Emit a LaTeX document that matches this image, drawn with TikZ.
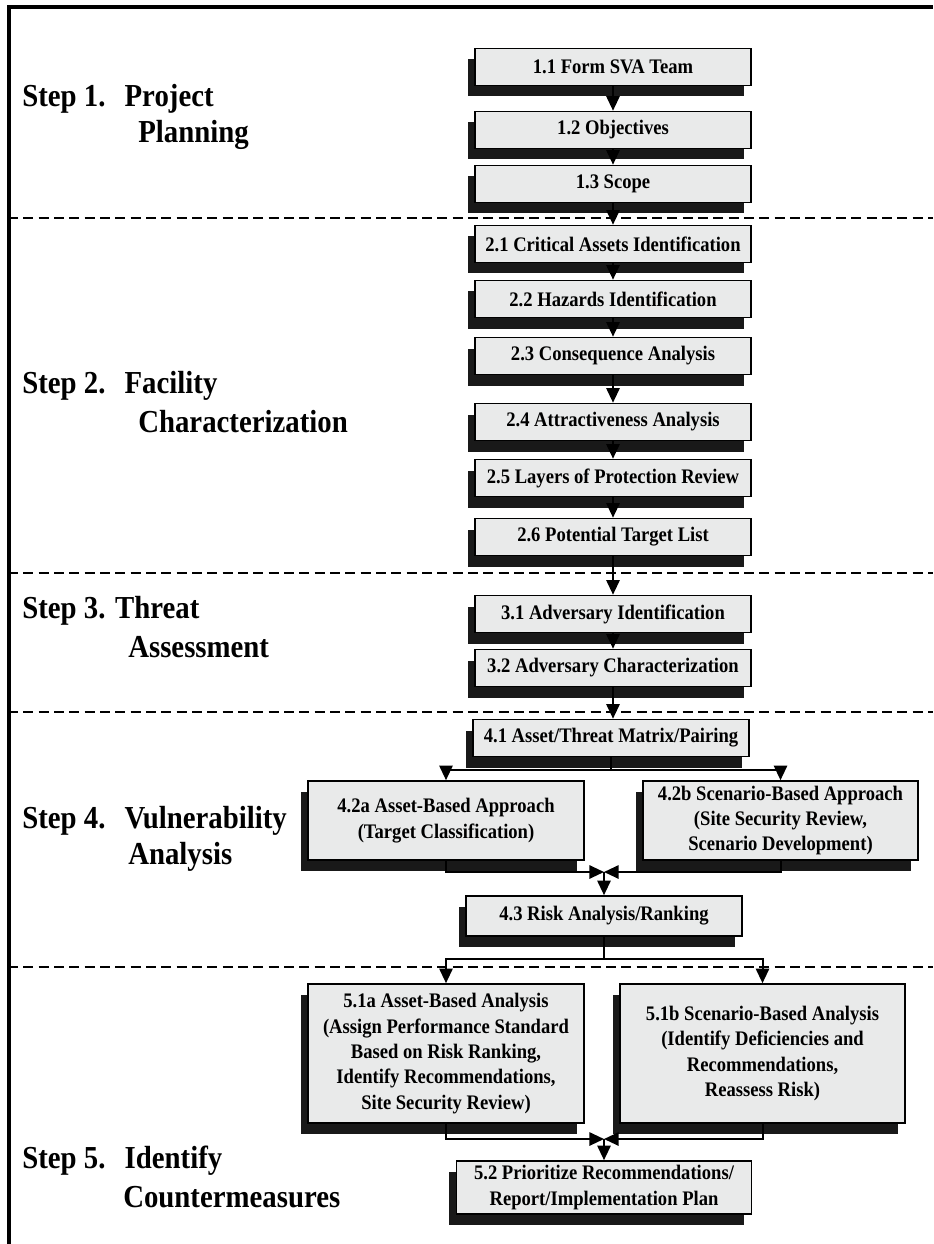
\documentclass[tikz,border=0pt]{standalone}
\usepackage{fontspec}
\setmainfont{Liberation Serif}[FakeStretch=0.9]
\usetikzlibrary{arrows.meta,shadows}

\definecolor{boxgray}{HTML}{E9EAEA}
\tikzset{
  stepbox/.style={draw=black, line width=1.2pt, fill=boxgray, align=center,
    inner sep=1pt, font=\bfseries\fontsize{15.5}{19}\selectfont,
    drop shadow={shadow xshift=-5.5pt, shadow yshift=-8.25pt, fill=black!90, opacity=1}},
  single/.style={stepbox, minimum width=207pt, minimum height=27.75pt},
  steplabel/.style={anchor=west, inner sep=0pt, font=\bfseries\fontsize{24}{27}\selectfont},
  arr/.style={line width=1.5pt, -{Triangle[length=11pt,width=10pt]}},
  sep/.style={dash pattern=on 7.5pt off 4pt, line width=1.2pt},
}

\begin{document}
\begin{tikzpicture}[x=0.75pt, y=-0.75pt]
    \useasboundingbox (0,0) rectangle (933,1244);

    % Frame and step separators
    \draw[line width=3pt, line join=miter] (8.5,1244) -- (8.5,7) -- (933,7);
    \foreach \y in {218,573,712,967} \draw[sep] (8,\y) -- (933,\y);

    % Step labels
    \node[steplabel] (s1a) at (22,99)   {Step 1.\hspace{0.6em}Project};
    \node[steplabel] (s1b) at (138,135) {Planning};
    \node[steplabel] (s2a) at (22,386)  {Step 2.\hspace{0.6em}Facility};
    \node[steplabel] (s2b) at (138,422) {Characterization};
    \node[steplabel] (s3a) at (22,611)  {Step 3.\hspace{0.3em}Threat};
    \node[steplabel] (s3b) at (128,647) {Assessment};
    \node[steplabel] (s4a) at (22,821)  {Step 4.\hspace{0.6em}Vulnerability};
    \node[steplabel] (s4b) at (128,857) {Analysis};
    \node[steplabel] (s5a) at (22,1161) {Step 5.\hspace{0.6em}Identify};
    \node[steplabel] (s5b) at (123,1197) {Countermeasures};

    % Step 1
    \node[single] (b11) at (613,67)  {1.1 Form SVA Team};
    \node[single] (b12) at (613,130) {1.2 Objectives};
    \node[single] (b13) at (613,184) {1.3 Scope};

    % Step 2
    \node[single] (b21) at (613,244) {2.1 Critical Assets Identification};
    \node[single] (b22) at (613,299) {2.2 Hazards Identification};
    \node[single] (b23) at (613,356) {2.3 Consequence Analysis};
    \node[single] (b24) at (613,422) {2.4 Attractiveness Analysis};
    \node[single] (b25) at (613,478) {2.5 Layers of Protection Review};
    \node[single] (b26) at (613,537) {2.6 Potential Target List};

    % Step 3
    \node[single] (b31) at (613,614) {3.1 Adversary Identification};
    \node[single] (b32) at (613,668) {3.2 Adversary Characterization};

    % Step 4
    \node[single] (b41) at (611,738) {4.1 Asset/Threat Matrix/Pairing};
    \node[stepbox, minimum width=207pt, minimum height=59.25pt] (b42a) at (446,820.5)
        {4.2a Asset-Based Approach\\(Target Classification)};
    \node[stepbox, minimum width=206.25pt, minimum height=59.25pt] (b42b) at (780.5,820.5)
        {4.2b Scenario-Based Approach\\(Site Security Review,\\Scenario Development)};
    \node[stepbox, minimum width=207pt, minimum height=30pt] (b43) at (604,916)
        {4.3 Risk Analysis/Ranking};

    % Step 5
    \node[stepbox, minimum width=207pt, minimum height=104.25pt] (b51a) at (446,1053.5)
        {5.1a Asset-Based Analysis\\(Assign Performance Standard\\Based on Risk Ranking,\\Identify Recommendations,\\Site Security Review)};
    \node[stepbox, minimum width=213.75pt, minimum height=104.25pt] (b51b) at (762.5,1053.5)
        {5.1b Scenario-Based Analysis\\(Identify Deficiencies and\\Recommendations,\\Reassess Risk)};
    \node[stepbox, minimum width=221.25pt, minimum height=39.75pt] (b52) at (604,1187.5)
        {5.2 Prioritize Recommendations/\\Report/Implementation Plan};

    % Straight flow down the column
    \draw[arr] (b11.south) -- (b12.north);
    \draw[arr] (b12.south) -- (b13.north);
    \draw[arr] (b13.south) -- (b21.north);
    \draw[arr] (b21.south) -- (b22.north);
    \draw[arr] (b22.south) -- (b23.north);
    \draw[arr] (b23.south) -- (b24.north);
    \draw[arr] (b24.south) -- (b25.north);
    \draw[arr] (b25.south) -- (b26.north);
    \draw[arr] (b26.south) -- (b31.north);
    \draw[arr] (b31.south) -- (b32.north);
    \draw[arr] (b32.south) -- (b32.south |- b41.north);

    % Fork and join in step 4
    \path (b41.south) ++(0,13) coordinate (f4);
    \coordinate (m4) at (604,872);
    \draw[arr] (b41.south) -- (f4) -| (b42a.north);
    \draw[arr] (f4) -| (b42b.north);
    \draw[arr] (b42a.south) |- (m4);
    \draw[arr] (b42b.south) |- (m4);
    \draw[arr] (m4) -- (b43.north);

    % Fork and join in step 5
    \path (b43.south) ++(0,22) coordinate (f5);
    \coordinate (m5) at (604,1139);
    \draw[arr] (b43.south) -- (f5) -| (b51a.north);
    \draw[arr] (f5) -| (b51b.north);
    \draw[arr] (b51a.south) |- (m5);
    \draw[arr] (b51b.south) |- (m5);
    \draw[arr] (m5) -- (b52.north);
\end{tikzpicture}
\end{document}
